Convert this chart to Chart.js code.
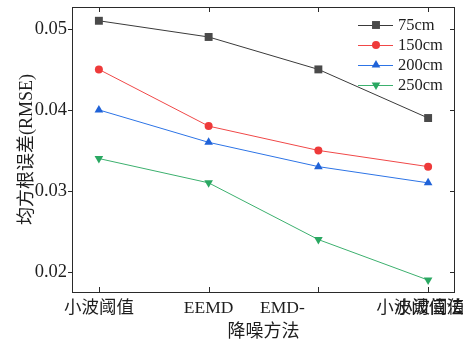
<!DOCTYPE html>
<html>
<head>
<meta charset="utf-8">
<script src="https://cdn.jsdelivr.net/npm/chart.js@4"></script>
<style>
  html, body { margin: 0; padding: 0; background: #fff; }
</style>
</head>
<body>
<canvas id="chart" width="463" height="347"></canvas>
<script>
// RMSE of each denoising method, one series per distance
const methods = ["小波阈值", "EEMD", "EMD-", "小波阈值法"];
const distances = ["75cm", "150cm", "200cm", "250cm"];
const rmse75 = [0.051, 0.049, 0.045, 0.039];
const rmse150 = [0.045, 0.038, 0.035, 0.033];
const rmse200 = [0.040, 0.036, 0.033, 0.031];
const rmse250 = [0.034, 0.031, 0.024, 0.019];
const yTicks = [0.02, 0.03, 0.04, 0.05];

const serif = "'Liberation Serif', 'Times New Roman', 'Noto Sans CJK SC'";
const ink = "#1e1e1e";

function series(label, values, color, fill, style, radius, rotation) {
    return {
        label: label,
        data: values.map((v, i) => ({ x: i, y: v })),
        borderColor: color,
        borderWidth: 1,
        pointStyle: style,
        pointRadius: radius,
        pointRotation: rotation,
        pointBackgroundColor: fill,
        pointBorderColor: fill,
        pointBorderWidth: 0,
        tension: 0
    };
}

// frame, tick marks, category labels and legend
const frameAndLabels = {
    id: "frameAndLabels",
    afterDraw(chart) {
        const ctx = chart.ctx;
        const a = chart.chartArea;
        const x = chart.scales.x, y = chart.scales.y;
        ctx.save();
        ctx.strokeStyle = "#2a2a2a";
        ctx.lineWidth = 1;
        ctx.strokeRect(a.left + 0.5, a.top + 0.5, a.right - a.left - 1, a.bottom - a.top);

        ctx.beginPath();
        yTicks.forEach(v => {
            const py = Math.round(y.getPixelForValue(v)) + 0.5;
            ctx.moveTo(a.left - 4, py); ctx.lineTo(a.left, py);
            ctx.moveTo(a.right - 5, py); ctx.lineTo(a.right, py);
        });
        methods.forEach((m, i) => {
            const px = Math.round(x.getPixelForValue(i)) + 0.5;
            ctx.moveTo(px, a.bottom); ctx.lineTo(px, a.bottom - 5);
            ctx.moveTo(px, a.top); ctx.lineTo(px, a.top + 5);
        });
        ctx.stroke();

        // category labels under the axis
        const shift = [0, 0, -36, -8];
        ctx.fillStyle = ink;
        ctx.font = "17.5px " + serif;
        ctx.textBaseline = "middle";
        ctx.textAlign = "center";
        methods.forEach((m, i) => {
            ctx.fillText(m, x.getPixelForValue(i) + shift[i], a.bottom + 16);
        });
        ctx.textAlign = "left";
        ctx.fillText("小波阈值", x.getPixelForValue(3) - 33, a.bottom + 16);

        // legend, top right inside the plot
        ctx.font = "16.5px " + serif;
        chart.data.datasets.forEach((ds, i) => {
            const ly = a.top + 18 + 20 * i;
            ctx.strokeStyle = ds.borderColor;
            ctx.beginPath();
            ctx.moveTo(a.right - 97, ly + 0.5);
            ctx.lineTo(a.right - 62, ly + 0.5);
            ctx.stroke();
            ctx.fillStyle = ds.pointBackgroundColor;
            Chart.helpers.drawPoint(ctx, {
                pointStyle: ds.pointStyle,
                radius: ds.pointRadius,
                rotation: ds.pointRotation,
                borderWidth: 0
            }, a.right - 79, ly);
            ctx.fillStyle = ink;
            ctx.fillText(ds.label, a.right - 57, ly + 1);
        });
        ctx.restore();
    }
};

new Chart(document.getElementById("chart").getContext("2d"), {
    type: "line",
    data: {
        datasets: [
            series(distances[0], rmse75, "#3a3a3a", "#4a4a4a", "rect", 5.6, 0),
            series(distances[1], rmse150, "#f04848", "#ee3a3a", "circle", 4, 0),
            series(distances[2], rmse200, "#2d74e6", "#1f62d8", "triangle", 5, 0),
            series(distances[3], rmse250, "#3cb06e", "#2aa862", "triangle", 5, 180)
        ]
    },
    options: {
        responsive: false,
        animation: false,
        layout: { padding: { left: 0, right: 8, top: 7, bottom: 0 } },
        plugins: { legend: { display: false }, tooltip: { enabled: false } },
        scales: {
            x: {
                type: "linear",
                min: -0.245,
                max: 3.245,
                grid: { display: false, drawTicks: false },
                border: { display: false },
                ticks: { display: false },
                afterBuildTicks: s => { s.ticks = methods.map((m, i) => ({ value: i })); },
                afterFit: s => { s.height = 55; s.paddingLeft = 0; s.paddingRight = 0; },
                title: {
                    display: true,
                    text: "降噪方法",
                    color: ink,
                    font: { family: serif, size: 18 },
                    padding: { top: 0, bottom: 4 }
                }
            },
            y: {
                min: 0.01753,
                max: 0.0527,
                grid: { display: false, drawTicks: false },
                border: { display: false },
                afterBuildTicks: s => { s.ticks = yTicks.map(v => ({ value: v })); },
                afterFit: s => { s.width = 72; s.paddingTop = 0; s.paddingBottom = 0; },
                ticks: {
                    padding: 5,
                    color: ink,
                    font: { family: serif, size: 18.5 },
                    callback: v => v.toFixed(2)
                },
                title: {
                    display: true,
                    text: "均方根误差(RMSE)",
                    color: ink,
                    font: { family: serif, size: 18 },
                    padding: { top: 16, bottom: 0 }
                }
            }
        }
    },
    plugins: [frameAndLabels]
});
</script>
</body>
</html>
